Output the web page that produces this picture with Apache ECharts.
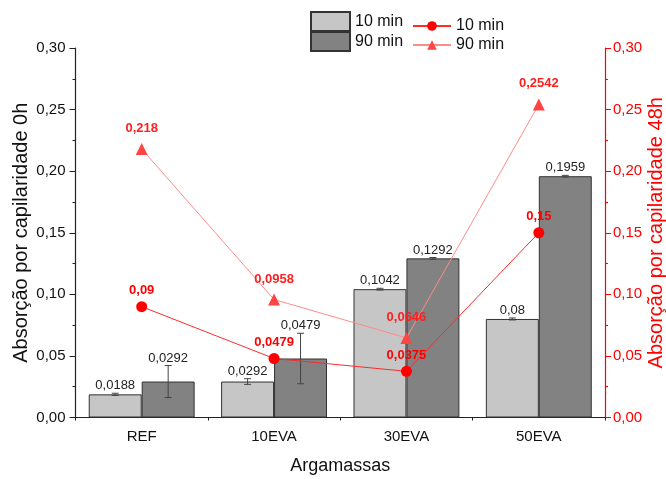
<!DOCTYPE html>
<html>
<head>
<meta charset="utf-8">
<script src="https://cdn.jsdelivr.net/npm/echarts@6/dist/echarts.min.js"></script>
<style>html,body{margin:0;padding:0;background:#fff;overflow:hidden}#c{width:666px;height:479px}</style>
</head>
<body>
<div id="c"></div>
<script>
var categories = ['REF', '10EVA', '30EVA', '50EVA'];
var bar10 = [0.0188, 0.0292, 0.1042, 0.08];
var bar90 = [0.0292, 0.0479, 0.1292, 0.1959];
var err10 = [0.0009, 0.0023, 0.0007, 0.0008];
var err90 = [0.013, 0.0205, 0.0007, 0.0007];
var line10 = [0.09, 0.0479, 0.0375, 0.15];
var line90 = [0.218, 0.0958, 0.0646, 0.2542];

var FONT = 'Liberation Sans, Arial, sans-serif';
function comma(v) { return String(v).replace('.', ','); }
function axisFmt(v) { return v.toFixed(2).replace('.', ','); }

function errSeries(name, vals, errs, side) {
  return {
    type: 'custom',
    name: name + '_err',
    z: 5,
    silent: true,
    data: vals.map(function (v, i) { return [i, v, errs[i]]; }),
    renderItem: function (params, api) {
      var i = api.value(0), v = api.value(1), e = api.value(2);
      var band = api.size([1, 0])[0];
      var off = side * band * 0.2;
      var c = api.coord([i, v]);
      var x = c[0] + off;
      var top = api.coord([i, v + e])[1];
      var bot = api.coord([i, v - e])[1];
      var cap = 3.5;
      var st = { stroke: '#444', lineWidth: 1 };
      return {
        type: 'group',
        children: [
          { type: 'line', shape: { x1: x, y1: top, x2: x, y2: bot }, style: st },
          { type: 'line', shape: { x1: x - cap, y1: top, x2: x + cap, y2: top }, style: st },
          { type: 'line', shape: { x1: x - cap, y1: bot, x2: x + cap, y2: bot }, style: st },
          { type: 'text', x: x, y: top - 1, style: { text: comma(v), fill: '#222', font: '13px ' + FONT, align: 'center', verticalAlign: 'bottom' } }
        ]
      };
    }
  };
}

var chart = echarts.init(document.getElementById('c'), null, { renderer: 'canvas' });
chart.setOption({
  animation: false,
  textStyle: { fontFamily: FONT },
  grid: { left: 75.5, right: 61, top: 48, bottom: 61.5, containLabel: false, outerBoundsMode: 'none' },
  legend: [
    {
      data: [{ name: '10 min ', icon: 'rect' }, { name: '90 min ', icon: 'rect' }],
      orient: 'vertical', left: 305, top: 6,
      itemWidth: 39, itemHeight: 19, itemGap: -1,
      textStyle: { fontSize: 16, color: '#111', fontFamily: FONT }
    },
    {
      data: ['10 min', '90 min'],
      orient: 'vertical', left: 407, top: 13,
      itemWidth: 38, itemHeight: 12, itemGap: 3,
      textStyle: { fontSize: 16, color: '#111', fontFamily: FONT }
    }
  ],
  xAxis: [
    {
      type: 'category', data: categories,
      name: 'Argamassas', nameLocation: 'middle', nameGap: 40, nameMoveOverlap: false,
      nameTextStyle: { fontSize: 18, color: '#111' },
      axisLine: { lineStyle: { color: '#222', width: 1.2 } },
      axisTick: { alignWithLabel: true, length: 6, lineStyle: { color: '#222' } },
      axisLabel: { fontSize: 15, color: '#111', margin: 12 }
    },
    {
      type: 'category', data: categories, position: 'bottom',
      axisLine: { show: false },
      axisTick: { show: true, length: 3, lineStyle: { color: '#222' } },
      axisLabel: { show: false }
    }
  ],
  yAxis: [
    {
      type: 'value', min: 0, max: 0.3, interval: 0.05,
      name: 'Absorção por capilaridade 0h', nameLocation: 'middle', nameGap: 44, nameMoveOverlap: false,
      nameTextStyle: { fontSize: 20, color: '#111' },
      axisLine: { show: true, lineStyle: { color: '#222', width: 1.2 } },
      axisTick: { show: true, length: 6, lineStyle: { color: '#222' } },
      minorTick: { show: true, splitNumber: 2, length: 3, lineStyle: { color: '#222' } },
      splitLine: { show: false },
      axisLabel: { fontSize: 15, color: '#111', formatter: axisFmt, margin: 10 }
    },
    {
      type: 'value', min: 0, max: 0.3, interval: 0.05, position: 'right',
      name: 'Absorção por capilaridade 48h', nameLocation: 'middle', nameGap: 41, nameMoveOverlap: false,
      nameTextStyle: { fontSize: 20, color: '#ff0000' },
      axisLine: { show: true, lineStyle: { color: '#ff0000', width: 1.2 } },
      axisTick: { show: true, length: 6, lineStyle: { color: '#ff0000' } },
      minorTick: { show: true, splitNumber: 2, length: 3, lineStyle: { color: '#ff0000' } },
      splitLine: { show: false },
      axisLabel: { fontSize: 15, color: '#ff0000', formatter: axisFmt, margin: 8 }
    }
  ],
  series: [
    {
      type: 'bar', name: '10 min ', data: bar10,
      barGap: '0%', barCategoryGap: '20%',
      itemStyle: { color: '#c6c6c6', borderColor: '#333', borderWidth: 1 }
    },
    {
      type: 'bar', name: '90 min ', data: bar90,
      barGap: '0%', barCategoryGap: '20%',
      itemStyle: { color: '#828282', borderColor: '#333', borderWidth: 1 }
    },
    errSeries('10 min', bar10, err10, -1),
    errSeries('90 min', bar90, err90, 1),
    {
      type: 'line', name: '10 min', data: line10, yAxisIndex: 1, z: 10,
      symbol: 'circle', symbolSize: 11,
      itemStyle: { color: '#ff0000' },
      lineStyle: { color: '#ff2a2a', width: 1 },
      label: { show: true, position: 'top', distance: 4, formatter: function (p) { return comma(p.value); },
        color: '#ff0000', fontWeight: 'bold', fontSize: 13 }
    },
    {
      type: 'line', name: '90 min', data: line90, yAxisIndex: 1, z: 10,
      symbol: 'triangle', symbolSize: 12,
      itemStyle: { color: '#ff4444' },
      lineStyle: { color: '#ff8a8a', width: 1 },
      label: { show: true, position: 'top', distance: 8, formatter: function (p) { return comma(p.value); },
        color: '#ff2020', fontWeight: 'bold', fontSize: 13 }
    }
  ]
});
</script>
</body>
</html>
